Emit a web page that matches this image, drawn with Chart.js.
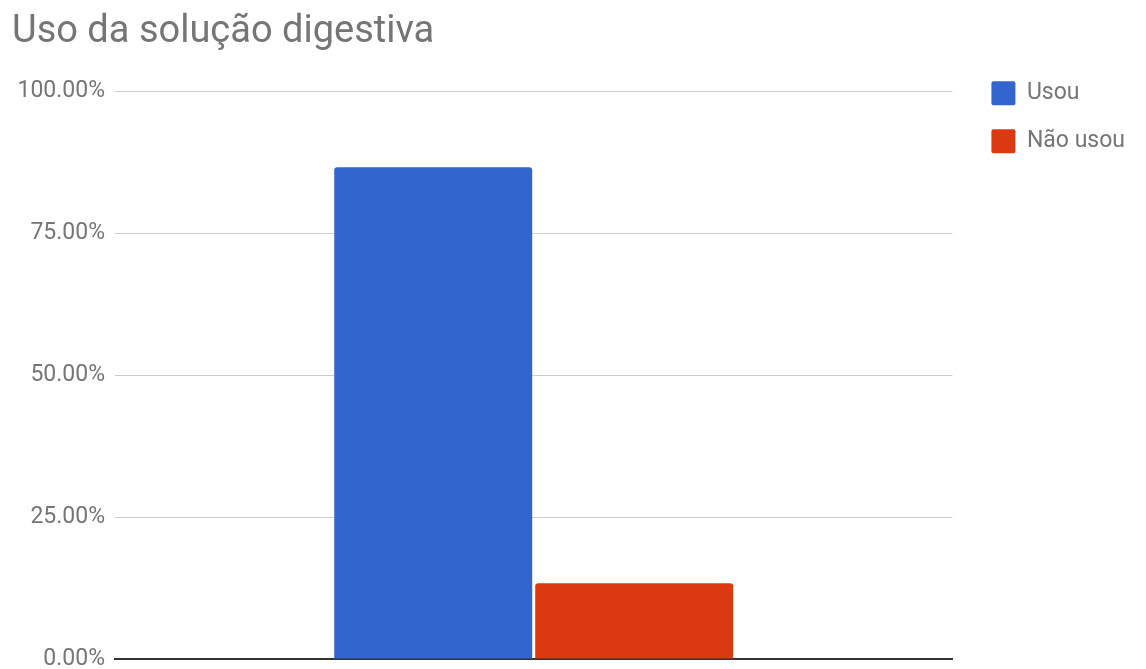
<!DOCTYPE html>
<html>
<head>
<meta charset="utf-8">
<script src="https://cdn.jsdelivr.net/npm/chart.js@4/dist/chart.umd.min.js"></script>
<style>
  html, body { margin: 0; padding: 0; background: #fff; }
  #wrap { width: 1146px; height: 669px; position: relative; }
</style>
</head>
<body>
<div id="wrap"><canvas id="chart"></canvas></div>
<script>
// chart data
const categories = [''];
const seriesNames = ['Usou', 'Não usou'];
const usouValues = [86.67];
const naoUsouValues = [13.33];
const seriesColors = ['#3366CC', '#DC3912'];
const yTicks = [0, 25, 50, 75, 100];

const textGray = '#757575';

const data = {
  labels: categories,
  datasets: [
    {
      label: seriesNames[0],
      data: usouValues,
      backgroundColor: seriesColors[0],
      borderRadius: { topLeft: 3, topRight: 3 },
      borderSkipped: 'start',
      categoryPercentage: 0.48,
      barPercentage: 0.985
    },
    {
      label: seriesNames[1],
      data: naoUsouValues,
      backgroundColor: seriesColors[1],
      borderRadius: { topLeft: 3, topRight: 3 },
      borderSkipped: 'start',
      categoryPercentage: 0.48,
      barPercentage: 0.985
    }
  ]
};

new Chart(document.getElementById('chart'), {
  type: 'bar',
  data: data,
  options: {
    responsive: true,
    maintainAspectRatio: false,
    animation: false,
    layout: { padding: { left: 12, right: 11, top: 0, bottom: 2 } },
    plugins: {
      title: {
        display: true,
        text: 'Uso da solução digestiva',
        align: 'start',
        color: textGray,
        font: { family: 'Roboto', size: 38, weight: 'normal' },
        padding: { top: 10, bottom: 36 }
      },
      legend: {
        position: 'right',
        align: 'start',
        title: {
          display: true,
          text: ' ',
          font: { size: 1 },
          padding: { top: 56, bottom: 0 }
        },
        labels: {
          color: textGray,
          font: { family: 'Roboto', size: 23 },
          boxWidth: 24,
          boxHeight: 24,
          padding: 24,
          useBorderRadius: true,
          borderRadius: 2
        }
      },
      tooltip: { enabled: false }
    },
    scales: {
      x: {
        grid: { display: false },
        border: { display: true, color: '#333333', width: 2 },
        ticks: { display: false }
      },
      y: {
        min: 0,
        max: 100,
        afterBuildTicks: (axis) => { axis.ticks = yTicks.map(v => ({ value: v })); },
        afterFit: (axis) => { axis.width = 103; axis.paddingBottom = 10; },
        grid: { color: '#cccccc', drawTicks: true, tickLength: 10, tickColor: 'rgba(0,0,0,0)' },
        border: { display: false },
        ticks: {
          color: textGray,
          font: { family: 'Roboto', size: 23 },
          padding: 0,
          callback: (v) => v.toFixed(2) + '%'
        }
      },
      gap: {
        position: 'right',
        display: true,
        afterFit: (axis) => { axis.width = 15; },
        grid: { display: false },
        border: { display: false },
        ticks: { display: false }
      }
    }
  }
});
</script>
</body>
</html>
